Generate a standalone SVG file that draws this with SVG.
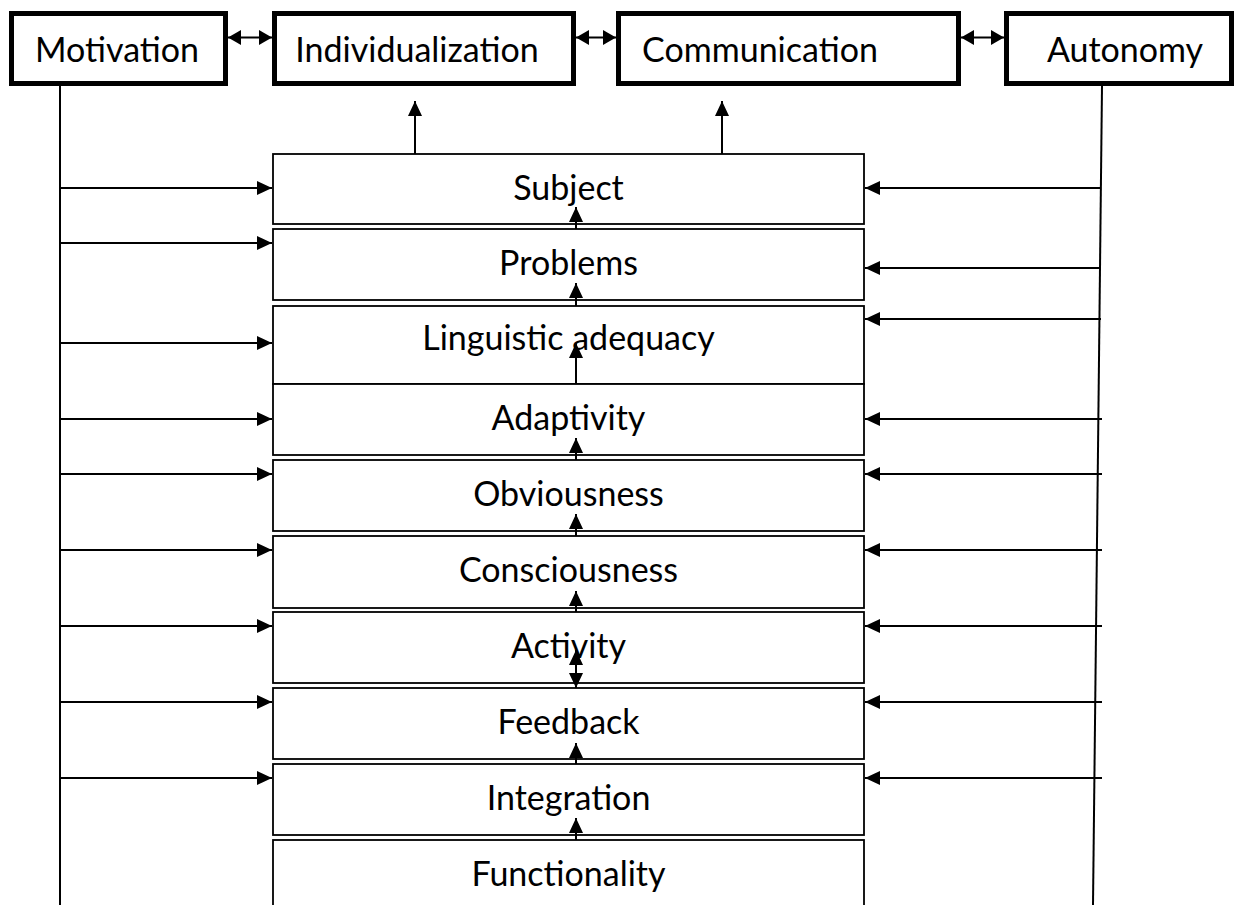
<svg xmlns="http://www.w3.org/2000/svg" width="1235" height="905" viewBox="0 0 1235 905">
<style>
.top rect{fill:#fff;stroke:#000;stroke-width:5}
.box rect{fill:#fff;stroke:#000;stroke-width:1.8}
text{font-family:Lato,"Liberation Sans",sans-serif;font-size:34px;fill:#000;text-anchor:middle}
.c line{stroke:#000;stroke-width:2;fill:none}
.c .a{marker-end:url(#ah)}
.c .d{marker-start:url(#ah2);marker-end:url(#ah2)}
.c .dv{marker-start:url(#ah);marker-end:url(#ah)}
</style>
<defs>
<marker id="ah" viewBox="0 0 15 14" refX="15" refY="7" markerWidth="15" markerHeight="14" markerUnits="userSpaceOnUse" orient="auto-start-reverse"><path d="M0,0 L15,7 L0,14 Z" fill="#000"/></marker>
<marker id="ah2" viewBox="0 0 13 15" refX="13" refY="7.5" markerWidth="13" markerHeight="15" markerUnits="userSpaceOnUse" orient="auto-start-reverse"><path d="M0,0 L13,7.5 L0,15 Z" fill="#000"/></marker>
</defs>
<rect width="1235" height="905" fill="#fff"/>

<g id="motivation" class="top"><rect x="11.5" y="13.5" width="214" height="70"/><text x="117" y="62">Motivation</text></g>
<g id="individualization" class="top"><rect x="274.5" y="13.5" width="299" height="70"/><text x="417" y="62">Individualization</text></g>
<g id="communication" class="top"><rect x="618.5" y="13.5" width="340" height="70"/><text x="760" y="62">Communication</text></g>
<g id="autonomy" class="top"><rect x="1006.5" y="13.5" width="225" height="70"/><text x="1125" y="62">Autonomy</text></g>

<g id="subject" class="box"><rect x="273" y="154" width="591" height="70"/><text x="568.5" y="200">Subject</text></g>
<g id="problems" class="box"><rect x="273" y="229" width="591" height="71"/><text x="568.5" y="275">Problems</text></g>
<g id="linguistic" class="box"><rect x="273" y="306" width="591" height="78"/><text x="568.5" y="350">Linguistic adequacy</text></g>
<g id="adaptivity" class="box"><rect x="273" y="384" width="591" height="71"/><text x="568.5" y="430">Adaptivity</text></g>
<g id="obviousness" class="box"><rect x="273" y="460" width="591" height="71"/><text x="568.5" y="506">Obviousness</text></g>
<g id="consciousness" class="box"><rect x="273" y="536" width="591" height="72"/><text x="568.5" y="582">Consciousness</text></g>
<g id="activity" class="box"><rect x="273" y="612" width="591" height="71"/><text x="568.5" y="658">Activity</text></g>
<g id="feedback" class="box"><rect x="273" y="688" width="591" height="71"/><text x="568.5" y="734">Feedback</text></g>
<g id="integration" class="box"><rect x="273" y="764" width="591" height="71"/><text x="568.5" y="810">Integration</text></g>
<g id="functionality" class="box"><rect x="273" y="840" width="591" height="80"/><text x="568.5" y="886">Functionality</text></g>

<g id="connectors" class="c">
<line class="d" x1="228" y1="37.5" x2="272" y2="37.5"/>
<line class="d" x1="576" y1="37.5" x2="616" y2="37.5"/>
<line class="d" x1="961" y1="37.5" x2="1004" y2="37.5"/>
<line x1="60" y1="86" x2="60" y2="905"/>
<line x1="1102" y1="86" x2="1093" y2="905"/>
<line class="a" x1="415" y1="154" x2="415" y2="101"/>
<line class="a" x1="722" y1="154" x2="722" y2="101"/>
<line class="a" x1="60" y1="188" x2="272" y2="188"/>
<line class="a" x1="60" y1="243" x2="272" y2="243"/>
<line class="a" x1="60" y1="343" x2="272" y2="343"/>
<line class="a" x1="60" y1="419" x2="272" y2="419"/>
<line class="a" x1="60" y1="474" x2="272" y2="474"/>
<line class="a" x1="60" y1="550" x2="272" y2="550"/>
<line class="a" x1="60" y1="626" x2="272" y2="626"/>
<line class="a" x1="60" y1="702" x2="272" y2="702"/>
<line class="a" x1="60" y1="778" x2="272" y2="778"/>
<line class="a" x1="1101" y1="188" x2="865" y2="188"/>
<line class="a" x1="1101" y1="268" x2="865" y2="268"/>
<line class="a" x1="1101" y1="319" x2="865" y2="319"/>
<line class="a" x1="1102" y1="419" x2="865" y2="419"/>
<line class="a" x1="1102" y1="474" x2="865" y2="474"/>
<line class="a" x1="1102" y1="550" x2="865" y2="550"/>
<line class="a" x1="1102" y1="626" x2="865" y2="626"/>
<line class="a" x1="1102" y1="702" x2="865" y2="702"/>
<line class="a" x1="1102" y1="778" x2="865" y2="778"/>
<line class="a" x1="576" y1="229" x2="576" y2="207"/>
<line class="a" x1="576" y1="306" x2="576" y2="283"/>
<line class="a" x1="576" y1="384" x2="576" y2="343"/>
<line class="a" x1="576" y1="460" x2="576" y2="438"/>
<line class="a" x1="576" y1="536" x2="576" y2="514"/>
<line class="a" x1="576" y1="612" x2="576" y2="591"/>
<line class="dv" x1="576" y1="650" x2="576" y2="688"/>
<line class="a" x1="576" y1="764" x2="576" y2="743"/>
<line class="a" x1="576" y1="840" x2="576" y2="818"/>
</g>
</svg>
